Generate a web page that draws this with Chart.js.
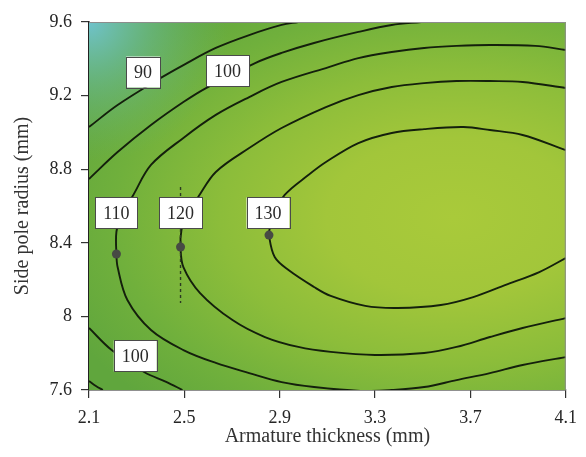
<!DOCTYPE html>
<html>
<head>
<meta charset="utf-8">
<script src="https://cdn.jsdelivr.net/npm/chart.js@4/dist/chart.umd.min.js"></script>
<style>
  html, body { margin: 0; padding: 0; background: #ffffff; }
  #wrap { width: 586px; height: 457px; }
</style>
</head>
<body>
<div id="wrap"><canvas id="c" width="586" height="457"></canvas></div>
<script>
// Axis ticks
const xTicks = [2.1, 2.5, 2.9, 3.3, 3.7, 4.1];
const yTicks = [7.6, 8.0, 8.4, 8.8, 9.2, 9.6];
const xTickLabels = ['2.1', '2.5', '2.9', '3.3', '3.7', '4.1'];
const yTickLabels = ['7.6', '8', '8.4', '8.8', '9.2', '9.6'];

// Contour lines: [armature thickness (mm), side pole radius (mm)]
const contour90Top = [
  [2.100, 9.029], [2.220, 9.149], [2.401, 9.296], [2.496, 9.366],
  [2.632, 9.459], [2.772, 9.529], [2.908, 9.584], [2.978, 9.600]
];
const contour90Bottom = [
  [2.100, 7.649], [2.129, 7.622], [2.158, 7.600]
];
const contour100Top = [
  [2.100, 8.747], [2.220, 8.893], [2.360, 9.040], [2.496, 9.165],
  [2.591, 9.241], [2.797, 9.377], [2.908, 9.432], [3.044, 9.486],
  [3.230, 9.546], [3.370, 9.584], [3.494, 9.600]
];
const contour100Bottom = [
  [2.100, 7.937], [2.195, 7.817], [2.331, 7.698], [2.426, 7.643], [2.492, 7.600]
];
const contour110 = [
  [4.100, 9.448], [3.972, 9.470], [3.782, 9.475], [3.642, 9.470],
  [3.506, 9.459], [3.370, 9.437], [3.230, 9.404], [3.106, 9.355],
  [2.908, 9.274], [2.772, 9.192], [2.632, 9.095], [2.496, 8.970],
  [2.360, 8.823], [2.281, 8.649], [2.236, 8.562], [2.215, 8.459],
  [2.215, 8.339], [2.220, 8.268], [2.261, 8.089], [2.360, 7.926],
  [2.496, 7.817], [2.632, 7.747], [2.772, 7.692], [2.908, 7.643],
  [3.044, 7.616], [3.238, 7.595], [3.370, 7.600], [3.506, 7.616],
  [3.642, 7.654], [3.782, 7.692], [3.919, 7.736], [4.100, 7.779]
];
const contour120 = [
  [4.100, 9.241], [3.919, 9.274], [3.782, 9.279], [3.642, 9.279],
  [3.506, 9.268], [3.370, 9.247], [3.230, 9.203], [3.094, 9.138],
  [2.908, 9.024], [2.772, 8.915], [2.632, 8.785], [2.558, 8.649],
  [2.512, 8.562], [2.488, 8.470], [2.484, 8.377], [2.496, 8.268],
  [2.566, 8.127], [2.702, 7.980], [2.838, 7.888], [2.978, 7.834],
  [3.114, 7.807], [3.300, 7.790], [3.506, 7.801], [3.642, 7.834],
  [3.782, 7.888], [3.919, 7.937], [4.100, 7.991]
];
const contour130 = [
  [4.100, 8.904], [3.919, 8.986], [3.782, 9.013], [3.671, 9.029],
  [3.506, 9.018], [3.370, 8.997], [3.230, 8.942], [3.094, 8.839],
  [3.020, 8.768], [2.921, 8.660], [2.884, 8.562], [2.859, 8.480],
  [2.855, 8.442], [2.879, 8.323], [2.937, 8.252], [3.044, 8.160],
  [3.114, 8.111], [3.259, 8.057], [3.395, 8.046], [3.576, 8.062],
  [3.712, 8.105], [3.848, 8.171], [3.989, 8.241], [4.100, 8.317]
];

// Marked points on the contours
const markerX = [2.215, 2.484, 2.855];
const markerY = [8.339, 8.377, 8.442];

// Vertical guide through the 120 marker
const guideX = [2.484, 2.484];
const guideY = [8.703, 8.073];

// Contour level labels
const labelText = ['90', '100', '110', '120', '130', '100'];
const labelX = [2.327, 2.681, 2.215, 2.484, 2.851, 2.294];
const labelY = [9.328, 9.334, 8.562, 8.562, 8.562, 7.785];

const SERIF = "'Liberation Serif', 'DejaVu Serif', serif";
const toPoints = arr => arr.map(p => ({ x: p[0], y: p[1] }));

const contourStyle = {
  showLine: true,
  borderColor: '#14200c',
  borderWidth: 1.9,
  pointRadius: 0,
  tension: 0.35,
  fill: false,
  clip: 0,
  order: 3
};

const contours = [contour90Top, contour90Bottom, contour100Top, contour100Bottom,
                  contour110, contour120, contour130];

const datasets = contours.map(c => Object.assign({ data: toPoints(c) }, contourStyle));

datasets.push({
  data: guideX.map((x, i) => ({ x, y: guideY[i] })),
  showLine: true,
  borderColor: '#2b3a22',
  borderWidth: 1.4,
  borderDash: [3, 3],
  pointRadius: 0,
  clip: 0,
  order: 2
});

datasets.push({
  data: markerX.map((x, i) => ({ x, y: markerY[i] })),
  showLine: false,
  pointRadius: 4.5,
  pointBackgroundColor: '#474a44',
  pointBorderWidth: 0,
  order: 1
});

// Shaded response surface behind the contours
const surfaceShading = {
  id: 'surfaceShading',
  beforeDatasetsDraw(chart) {
    const { ctx, chartArea: a } = chart;
    const w = a.right - a.left, h = a.bottom - a.top;
    ctx.save();
    ctx.beginPath();
    ctx.rect(a.left, a.top, w, h);
    ctx.clip();
    ctx.fillStyle = '#60a63d';
    ctx.fillRect(a.left, a.top, w, h);

    ctx.save();
    ctx.translate(a.left + w * 0.765, a.top + h * 0.53);
    ctx.scale(1.6, 1);
    const r = 265;
    const g = ctx.createRadialGradient(0, 0, 0, 0, 0, r);
    g.addColorStop(0.0, '#a9ca3a');
    g.addColorStop(0.3, '#a2c63a');
    g.addColorStop(0.55, '#8cbd3a');
    g.addColorStop(0.8, '#70b03c');
    g.addColorStop(1.0, '#60a63d');
    ctx.fillStyle = g;
    ctx.fillRect(-r * 2, -r * 2, r * 4, r * 4);
    ctx.restore();

    const c = ctx.createRadialGradient(a.left, a.top, 0, a.left, a.top, 140);
    c.addColorStop(0.0, 'rgba(112,196,212,0.95)');
    c.addColorStop(0.45, 'rgba(108,190,170,0.5)');
    c.addColorStop(1.0, 'rgba(100,180,120,0)');
    ctx.fillStyle = c;
    ctx.fillRect(a.left, a.top, 160, 160);
    ctx.restore();
  },
  afterDatasetsDraw(chart) {
    const { ctx, chartArea: a, scales } = chart;
    // light frame on the top and right sides
    ctx.save();
    ctx.strokeStyle = '#8c8c8c';
    ctx.lineWidth = 1;
    ctx.beginPath();
    ctx.moveTo(a.left, a.top + 0.5);
    ctx.lineTo(a.right - 0.5, a.top + 0.5);
    ctx.lineTo(a.right - 0.5, a.bottom);
    ctx.stroke();

    // level labels
    ctx.font = '18px ' + SERIF;
    ctx.textAlign = 'center';
    ctx.textBaseline = 'middle';
    labelText.forEach((t, i) => {
      const px = scales.x.getPixelForValue(labelX[i]);
      const py = scales.y.getPixelForValue(labelY[i]);
      const bw = ctx.measureText(t).width + 16;
      const bh = 31;
      ctx.fillStyle = '#ffffff';
      ctx.fillRect(px - bw / 2, py - bh / 2, bw, bh);
      ctx.strokeStyle = '#4a4a4a';
      ctx.lineWidth = 1;
      ctx.strokeRect(Math.round(px - bw / 2) + 0.5, Math.round(py - bh / 2) + 0.5, Math.round(bw), bh);
      ctx.fillStyle = '#2a2a2a';
      ctx.fillText(t, px, py + 1);
    });
    ctx.restore();
  }
};

new Chart(document.getElementById('c'), {
  type: 'scatter',
  data: { datasets },
  plugins: [surfaceShading],
  options: {
    responsive: false,
    animation: false,
    layout: { padding: { top: 22, right: 12, left: 0, bottom: 0 } },
    plugins: { legend: { display: false }, tooltip: { enabled: false } },
    scales: {
      x: {
        type: 'linear',
        min: 2.1,
        max: 4.1,
        afterBuildTicks: s => { s.ticks = xTicks.map(v => ({ value: v })); },
        afterFit: s => { s.height = 67; },
        ticks: {
          callback: (v, i) => xTickLabels[i],
          font: { family: SERIF, size: 18 },
          color: '#262626',
          padding: 9,
          maxRotation: 0
        },
        grid: { drawOnChartArea: false, drawTicks: true, tickLength: 8, color: '#333333', lineWidth: 1.2 },
        border: { display: true, color: '#222222', width: 1.6 },
        title: {
          display: true,
          text: 'Armature thickness (mm)',
          font: { family: SERIF, size: 20 },
          color: '#333333',
          padding: { top: 0, bottom: 8 }
        }
      },
      y: {
        type: 'linear',
        min: 7.6,
        max: 9.6,
        afterBuildTicks: s => { s.ticks = yTicks.map(v => ({ value: v })); },
        afterFit: s => { s.width = 89; },
        ticks: {
          callback: (v, i) => yTickLabels[i],
          font: { family: SERIF, size: 18 },
          color: '#262626',
          padding: 9
        },
        grid: { drawOnChartArea: false, drawTicks: true, tickLength: 8, color: '#333333', lineWidth: 1.2 },
        border: { display: true, color: '#222222', width: 1.6 },
        title: {
          display: true,
          text: 'Side pole radius (mm)',
          font: { family: SERIF, size: 20 },
          color: '#333333',
          padding: { top: 11, bottom: 0 }
        }
      }
    }
  }
});
</script>
</body>
</html>
